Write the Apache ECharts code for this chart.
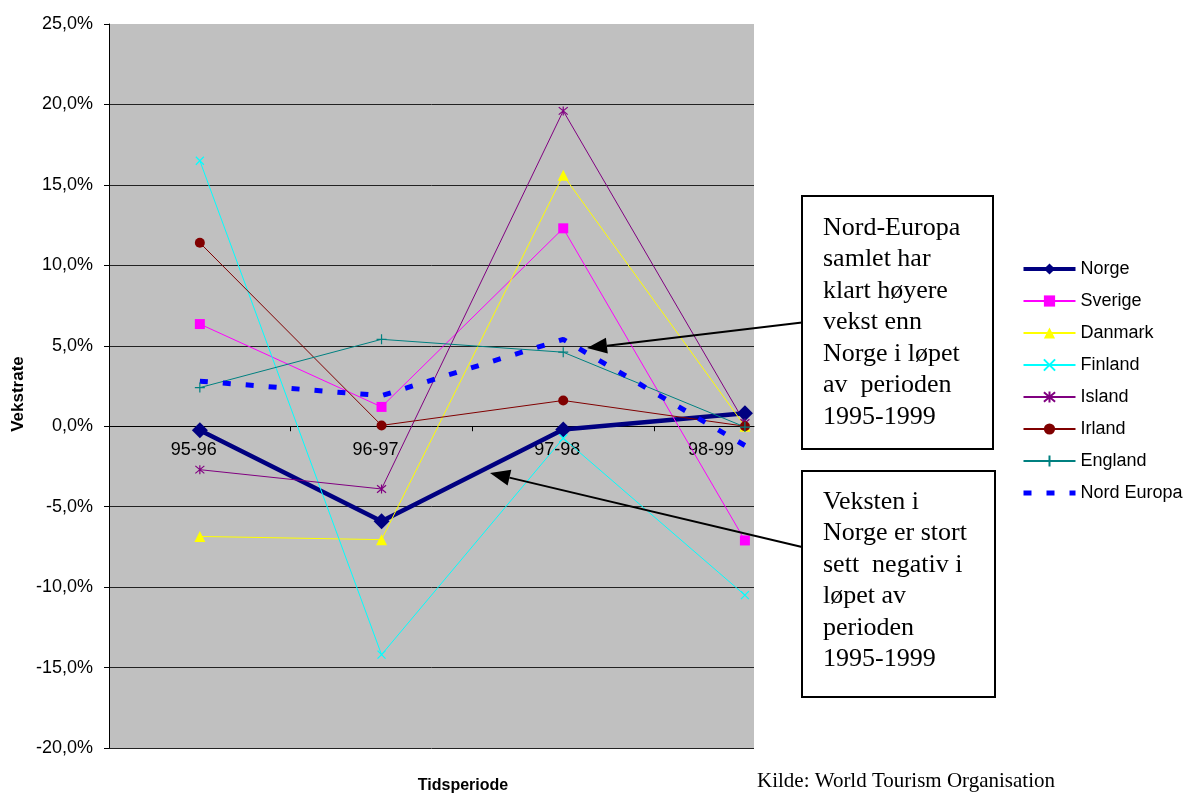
<!DOCTYPE html>
<html>
<head>
<meta charset="utf-8">
<script src="https://cdn.jsdelivr.net/npm/echarts@6/dist/echarts.min.js"></script>
<style>
  html, body { margin: 0; padding: 0; background: #ffffff; }
  #chart { width: 1192px; height: 794px; }
</style>
</head>
<body>
<div id="chart"></div>
<script>
// Periods on the horizontal axis
const periods = ['95-96', '96-97', '97-98', '98-99'];

// Growth rate per period, in percent
const norge      = [-0.25, -5.9, -0.2, 0.8];
const sverige    = [6.35, 1.2, 12.3, -7.1];
const danmark    = [-6.85, -7.05, 15.6, 0.0];
const finland    = [16.5, -14.2, -0.75, -10.5];
const island     = [-2.7, -3.9, 19.6, 0.2];
const irland     = [11.4, 0.05, 1.6, 0.0];
const england    = [2.4, 5.4, 4.6, -0.05];
const nordEuropa = [2.8, 1.9, 5.4, -1.2];

// Value axis ticks (percent)
const yMin = -20, yMax = 25, yStep = 5;

const FONT = 'Arial, "Liberation Sans", sans-serif';
const SERIF = '"Times New Roman", "Liberation Serif", serif';

// plot area
const GRID = { left: 109, right: 438, top: 24, bottom: 46 };
const gridHeight = 794 - GRID.top - GRID.bottom;
// the period axis crosses the value axis at 0 %
const zeroOffset = -((0 - yMin) / (yMax - yMin)) * gridHeight;

// each period sits in the middle of its band on a 0..n value scale
const toPoints = vals => vals.map((v, i) => [i + 0.5, v]);

const chart = echarts.init(document.getElementById('chart'), null, { renderer: 'canvas' });

function lineSeries(name, vals, color, extra) {
  return Object.assign({
    name: name,
    type: 'line',
    data: toPoints(vals),
    color: color,
    lineStyle: { color: color, width: 1 },
    itemStyle: { color: color },
    emphasis: { disabled: true },
    animation: false
  }, extra || {});
}

const X_SYM = 'path://M0,0L10,10M10,0L0,10';
const STAR_SYM = 'path://M0,0L10,10M10,0L0,10M5,-1L5,11';
const PLUS_SYM = 'path://M5,0L5,10M0,5L10,5';

const series = [
  lineSeries('Norge', norge, '#000080', {
    lineStyle: { color: '#000080', width: 4.5 },
    symbol: 'diamond', symbolSize: 16
  }),
  lineSeries('Sverige', sverige, '#FF00FF', { symbol: 'rect', symbolSize: 10 }),
  lineSeries('Danmark', danmark, '#FFFF00', { symbol: 'triangle', symbolSize: 11 }),
  lineSeries('Finland', finland, '#00FFFF', {
    symbol: X_SYM, symbolSize: 8,
    itemStyle: { color: '#00FFFF', borderColor: '#00FFFF', borderWidth: 1.2 }
  }),
  lineSeries('Island', island, '#800080', {
    symbol: STAR_SYM, symbolSize: 9,
    itemStyle: { color: '#800080', borderColor: '#800080', borderWidth: 1.2 }
  }),
  lineSeries('Irland', irland, '#800000', { symbol: 'circle', symbolSize: 10 }),
  lineSeries('England', england, '#008080', {
    symbol: PLUS_SYM, symbolSize: 10,
    itemStyle: { color: '#008080', borderColor: '#008080', borderWidth: 1.2 }
  }),
  lineSeries('Nord Europa', nordEuropa, '#0000FF', {
    lineStyle: { color: '#0000FF', width: 5, type: [8, 15] },
    symbol: 'none', showSymbol: false
  })
];

// legend entries: thick lines keep their weight, the dashed line has no marker
const legendItems = series.map(s => {
  if (s.name === 'Norge') return { name: s.name, lineStyle: { width: 4 } };
  if (s.name === 'Nord Europa') return { name: s.name, lineStyle: { width: 5 }, itemStyle: { opacity: 0 } };
  return { name: s.name };
});

// arrow: a line with a filled triangular head at (tx, ty)
function arrow(x1, y1, tx, ty) {
  const dx = tx - x1, dy = ty - y1;
  const len = Math.sqrt(dx * dx + dy * dy);
  const ux = dx / len, uy = dy / len;
  const hl = 20, hw = 8;
  const bx = tx - ux * hl, by = ty - uy * hl;
  return [
    { type: 'line', shape: { x1: x1, y1: y1, x2: bx, y2: by },
      style: { stroke: '#000', lineWidth: 2 }, z: 100 },
    { type: 'polygon',
      shape: { points: [[tx, ty], [bx - uy * hw, by + ux * hw], [bx + uy * hw, by - ux * hw]] },
      style: { fill: '#000' }, z: 100 }
  ];
}

function noteBox(x, y, w, h, text, textTop) {
  return [
    { type: 'rect', shape: { x: x, y: y, width: w, height: h },
      style: { fill: '#fff', stroke: '#000', lineWidth: 2 }, z: 100 },
    { type: 'text', left: x + 21, top: textTop, z: 101,
      style: { text: text, font: '26px ' + SERIF, fill: '#000', lineHeight: 31.5 } }
  ];
}

const graphics = []
  .concat(arrow(802, 322.5, 587, 348))
  .concat(arrow(802, 547, 490, 473))
  .concat(noteBox(802, 196, 191, 253,
    'Nord-Europa\nsamlet har\nklart høyere\nvekst enn\nNorge i løpet\nav  perioden\n1995-1999', 212))
  .concat(noteBox(802, 471, 193, 226,
    'Veksten i\nNorge er stort\nsett  negativ i\nløpet av\nperioden\n1995-1999', 486))
  .concat([
    { type: 'text', x: 18, y: 394, rotation: Math.PI / 2, z: 50,
      style: { text: 'Vekstrate', font: 'bold 17px ' + FONT, fill: '#000',
               align: 'center', verticalAlign: 'middle' } },
    { type: 'text', x: 463, y: 786, z: 50,
      style: { text: 'Tidsperiode', font: 'bold 16px ' + FONT, fill: '#000',
               align: 'center', verticalAlign: 'middle' } },
    { type: 'text', x: 757, y: 781, z: 50,
      style: { text: 'Kilde: World Tourism Organisation', font: '21px ' + SERIF, fill: '#000',
               align: 'left', verticalAlign: 'middle' } }
  ]);

chart.setOption({
  animation: false,
  backgroundColor: '#ffffff',
  grid: {
    left: GRID.left, right: GRID.right, top: GRID.top, bottom: GRID.bottom,
    show: true, backgroundColor: '#C0C0C0', borderWidth: 0
  },
  legend: {
    orient: 'vertical',
    left: 1021, top: 260,
    padding: 0,
    itemWidth: 52, itemHeight: 14, itemGap: 14,
    textStyle: { fontFamily: FONT, fontSize: 18, color: '#000' },
    data: legendItems
  },
  xAxis: {
    type: 'value',
    min: 0, max: 3.55,
    offset: zeroOffset,
    axisLine: { show: true, onZero: false, lineStyle: { color: '#000', width: 1 } },
    splitLine: { show: false },
    axisTick: { show: true, customValues: [1, 2, 3], length: 5, lineStyle: { color: '#000' } },
    axisLabel: {
      customValues: [0.5, 1.5, 2.5, 3.5],
      margin: 15,
      formatter: v => {
        const i = Math.round(v - 0.5);
        return (i === periods.length - 1 ? '{last|' : '{std|') + periods[i] + '}';
      },
      rich: {
        std: { fontFamily: FONT, fontSize: 18, color: '#000', padding: [0, 12, 0, 0] },
        last: { fontFamily: FONT, fontSize: 18, color: '#000', padding: [0, 68, 0, 0] }
      }
    }
  },
  yAxis: {
    type: 'value',
    min: yMin, max: yMax, interval: yStep,
    axisLine: { show: true, onZero: false, lineStyle: { color: '#000', width: 1 } },
    axisTick: { show: true, length: 5, lineStyle: { color: '#000' } },
    splitLine: { show: true, showMaxLine: false, lineStyle: { color: '#222', width: 1 } },
    axisLabel: {
      margin: 16,
      fontFamily: FONT, fontSize: 18, color: '#000',
      formatter: v => v.toFixed(1).replace('.', ',') + '%'
    }
  },
  series: series,
  graphic: { elements: graphics }
});
</script>
</body>
</html>
